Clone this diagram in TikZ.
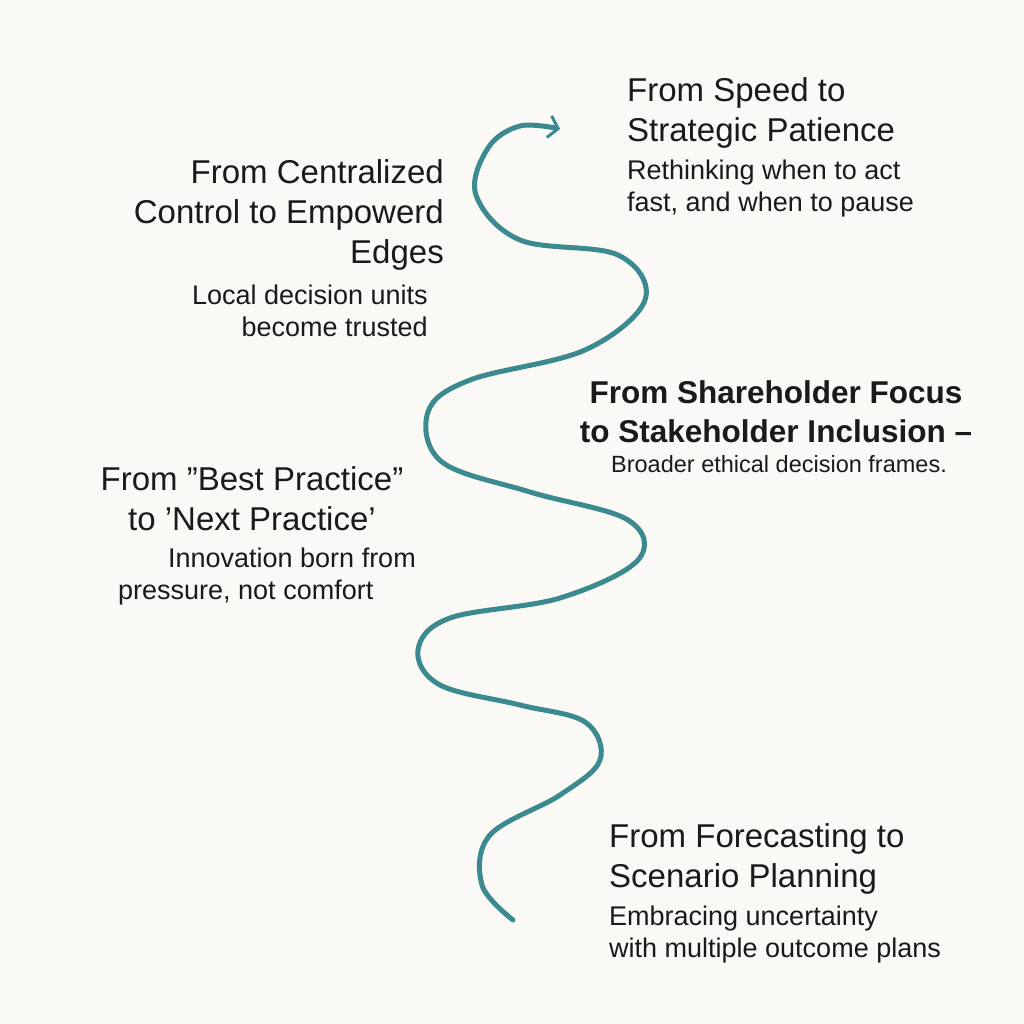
\documentclass[tikz,border=0pt]{standalone}
\usepackage{fontspec}
\setmainfont{Liberation Sans}
\usetikzlibrary{arrows.meta}
\definecolor{bg}{HTML}{FBF9F5}
\definecolor{teal}{HTML}{3A8A8F}
\definecolor{ink}{HTML}{1A1A1A}
\tikzset{
 ttl/.style={text=ink,inner sep=0pt,font=\fontsize{33}{40}\selectfont},
 sub/.style={text=ink,inner sep=0pt,font=\fontsize{27}{32}\selectfont},
}
\begin{document}
\begin{tikzpicture}[x=1pt,y=-1pt]
\fill[bg] (0,0) rectangle (1024,1024);
\useasboundingbox (0,0) rectangle (1024,1024);
\draw[teal,line width=5pt,line cap=round,-{Straight Barb[length=9pt,width=22pt,line width=3pt]}]
 plot[smooth,tension=0.6] coordinates {(513,920)(482,885)(490,835)(560,795)(600,760)(585,722)(520,705)(440,685)(418,650)(450,618)(560,598)(638,560)(628,520)(530,492)(442,462)(428,412)(470,380)(585,350)(645,300)(618,255)(520,240)(476,195)(488,148)(520,126)(560,129)};
\node[ttl,anchor=north west,align=left] (t1) at (627,77) {From Speed to\\Strategic Patience};
\node[sub,anchor=north west,align=left] (s1) at (627,160) {Rethinking when to act\\fast, and when to pause};
\node[ttl,anchor=north east,align=right] (t2) at (444,159) {From Centralized\\Control to Empowerd\\Edges};
\node[sub,anchor=north east,align=right] (s2) at (428,285) {Local decision units\\become trusted};
\node[ttl,anchor=north,align=center,font=\bfseries\fontsize{31.5}{39}\selectfont] (t3) at (776,380) {From Shareholder Focus\\to Stakeholder Inclusion –};
\node[sub,anchor=north,font=\fontsize{23.5}{26}\selectfont] (s3) at (779,455) {Broader ethical decision frames.};
\node[ttl,anchor=north,align=center] (t4) at (252,466) {From ”Best Practice”\\to ’Next Practice’};
\node[sub,anchor=north east] (s4) at (416,548) {Innovation born from};
\node[sub,anchor=north west] (s4b) at (118,580) {pressure, not comfort};
\node[ttl,anchor=north west,align=left] (t5) at (609,823) {From Forecasting to\\Scenario Planning};
\node[sub,anchor=north west,align=left] (s5) at (609,906) {Embracing uncertainty\\with multiple outcome plans};
\end{tikzpicture}
\end{document}
